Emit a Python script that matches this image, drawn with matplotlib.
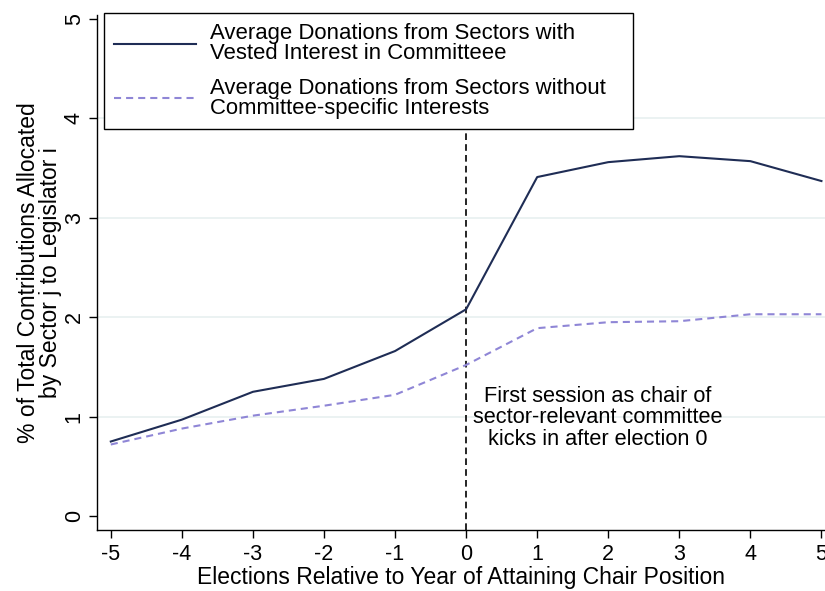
import matplotlib
matplotlib.use("Agg")
import matplotlib.pyplot as plt
from matplotlib.patches import Rectangle

plt.rcParams['font.family'] = ['Liberation Sans', 'DejaVu Sans']
plt.rcParams['axes.unicode_minus'] = False

elections = [-5, -4, -3, -2, -1, 0, 1, 2, 3, 4, 5]
vested = [0.75, 0.97, 1.25, 1.38, 1.66, 2.08, 3.41, 3.56, 3.62, 3.57, 3.37]
no_interest = [0.72, 0.88, 1.01, 1.11, 1.22, 1.52, 1.89, 1.95, 1.96, 2.03, 2.03]
yticks = [0, 1, 2, 3, 4, 5]

navy = '#1f2d55'
lilac = '#8f86d6'

W, H = 825, 591
fig = plt.figure(figsize=(8.25, 5.91), dpi=100)
ax = fig.add_axes([97.3/W, 61/H, 727.7/W, 515/H])

for y in yticks[1:-1]:
    ax.axhline(y, color='#e8f0f0', lw=1.2, zorder=0)

ax.axvline(0, color='black', lw=1.2, linestyle=(0, (4, 2.5)), zorder=1)

ax.plot(elections, vested, color=navy, lw=1.5, zorder=3,
        label='Average Donations from Sectors with\nVested Interest in Committeee')
ax.plot(elections, no_interest, color=lilac, lw=1.5, linestyle=(0, (3.4, 2.4)), zorder=3,
        label='Average Donations from Sectors without\nCommittee-specific Interests')

ax.set_xlim(-5.19, 5.05)
ax.set_ylim(-0.14, 5.04)
ax.set_xticks(elections)
ax.set_yticks(yticks)
ax.spines['top'].set_visible(False)
ax.spines['right'].set_visible(False)
for s in ['left', 'bottom']:
    ax.spines[s].set_linewidth(1.0)
ax.tick_params(axis='both', length=6, width=1.0, labelsize=15.5, pad=4)
ax.tick_params(axis='y', labelrotation=90, pad=3)
for lab in ax.get_yticklabels():
    lab.set_va('center')

ax.set_xlabel('Elections Relative to Year of Attaining Chair Position', fontsize=16.5, labelpad=1)
ax.set_ylabel('% of Total Contributions Allocated\nby Sector j to Legislator i', fontsize=16.5,
              labelpad=1, linespacing=0.95)

ax.text(1.85, 0.99, 'First session as chair of\nsector-relevant committee\nkicks in after election 0',
        ha='center', va='center', fontsize=15.7, linespacing=1.03)

# legend box (Stata style, wider on the right)
box = Rectangle((104/W, (H - 129.3)/H), (633 - 104)/W, (129.3 - 12.7)/H,
                transform=fig.transFigure, facecolor='white', edgecolor='black',
                lw=1.0, zorder=4.5, clip_on=False)
ax.add_patch(box)

leg = ax.legend(loc='upper left', bbox_to_anchor=((104 - 97.3)/727.7, (530 - 12.7)/515),
                borderaxespad=0, frameon=False,
                fontsize=15.9, handlelength=3.7, handletextpad=0.65, labelspacing=0.62,
                borderpad=0.45)
leg.set_zorder(6)
for t in leg.get_texts():
    t.set_linespacing(0.95)

fig.savefig('out.png', dpi=100)
